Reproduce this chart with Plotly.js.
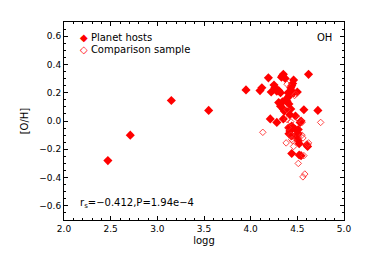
<!DOCTYPE html>
<html><head><meta charset="utf-8">
<script src="https://cdn.plot.ly/plotly-3.0.1.min.js"></script>
<style>html,body{margin:0;padding:0;background:#fff}#c{width:365px;height:261px}</style>
</head><body><div id="c"></div>
<script>
const hostLogg = [2.47,2.71,3.15,3.55,3.95,4.10,4.12,4.19,4.33,4.35,4.34,4.62,4.25,4.26,4.22,4.28,4.32,4.30,4.43,4.45,4.46,4.44,4.46,4.41,4.50,4.30,4.34,4.32,4.39,4.41,4.43,4.35,4.36,4.57,4.72,4.21,4.28,4.42,4.35,4.48,4.54,4.53,4.44,4.41,4.48,4.42,4.51,4.51,4.41,4.44,4.50,4.51,4.52,4.60,4.61,4.44,4.52,4.54,4.39,4.40,4.37];
const hostOH   = [-0.28,-0.10,0.145,0.075,0.22,0.215,0.235,0.305,0.31,0.33,0.32,0.33,0.255,0.235,0.205,0.21,0.20,0.215,0.235,0.265,0.29,0.25,0.20,0.175,0.205,0.13,0.135,0.105,0.14,0.12,0.085,0.085,0.07,0.08,0.075,0.015,-0.01,0.045,0.015,0.035,0.00,-0.01,-0.035,-0.05,-0.06,-0.07,-0.06,-0.09,-0.09,-0.105,-0.125,-0.14,-0.16,-0.17,-0.18,-0.23,-0.24,-0.245,0.16,0.20,0.30];
const compLogg = [4.13,4.75,4.39,4.47,4.39,4.48,4.39,4.43,4.51,4.55,4.40,4.43,4.38,4.44,4.46,4.55,4.56,4.62,4.57,4.51,4.58,4.56,4.45,4.61];
const compOH   = [-0.08,-0.01,0.26,0.18,0.08,0.19,0.01,-0.005,0.015,-0.01,-0.045,-0.10,-0.155,-0.13,-0.18,-0.10,-0.12,-0.155,-0.245,-0.30,-0.375,-0.395,-0.14,-0.165];
const seriesNames = ["Planet hosts","Comparison sample"];
const statText = "r<sub>s</sub>=\u22120.412,P=1.94e\u22124";
const panelLabel = "OH";

const fam = "DejaVu Sans, Verdana, sans-serif";
const font = {family:fam, size:10, color:"#000"};
const tickFont = {family:fam, size:9, color:"#000"};
const traces = [
  {x:hostLogg, y:hostOH, mode:"markers", type:"scatter", name:seriesNames[0],
   marker:{symbol:"diamond", size:7, color:"#ff0000", line:{width:0}}},
  {x:compLogg, y:compOH, mode:"markers", type:"scatter", name:seriesNames[1],
   marker:{symbol:"diamond-open", size:5, color:"rgba(255,40,40,0.85)", line:{width:1}}}
];
const axisCommon = {showgrid:false, zeroline:false, showline:true, linecolor:"#000", linewidth:1,
  mirror:"ticks", ticks:"inside", ticklen:4, tickcolor:"#000", tickfont:tickFont};
const layout = {
  width:365, height:261, margin:{l:64, r:21, t:22, b:41},
  paper_bgcolor:"#fff", plot_bgcolor:"#fff", font:font,
  xaxis:Object.assign({}, axisCommon, {range:[2,5], dtick:0.5, tick0:2, tickformat:".1f",
    minor:{dtick:0.1, ticks:"inside", ticklen:2, tickcolor:"#000"},
    title:{text:"logg", font:font, standoff:4}}),
  yaxis:Object.assign({}, axisCommon, {range:[-0.7,0.7], dtick:0.2, tick0:-0.6, tickformat:".1f",
    minor:{dtick:0.05, ticks:"inside", ticklen:2, tickcolor:"#000"},
    title:{text:"[O/H]", font:font, standoff:8}}),
  showlegend:false,
  annotations:[
    {xref:"paper", yref:"paper", x:0.05, y:0.92, yanchor:"middle", xanchor:"left", showarrow:false, font:font,
     text:"<span style='color:#ff0000'>\u25C6</span> " + seriesNames[0]},
    {xref:"paper", yref:"paper", x:0.05, y:0.86, yanchor:"middle", xanchor:"left", showarrow:false, font:font,
     text:"<span style='color:#ff0000'>\u25C7</span> " + seriesNames[1]},
    {xref:"paper", yref:"paper", x:0.93, y:0.96, text:panelLabel, showarrow:false, font:font, xanchor:"center"},
    {xref:"paper", yref:"paper", x:0.05, y:0.04, text:statText, showarrow:false, font:font, xanchor:"left"}
  ]
};
Plotly.newPlot("c", traces, layout, {staticPlot:true, displayModeBar:false});
</script></body></html>
